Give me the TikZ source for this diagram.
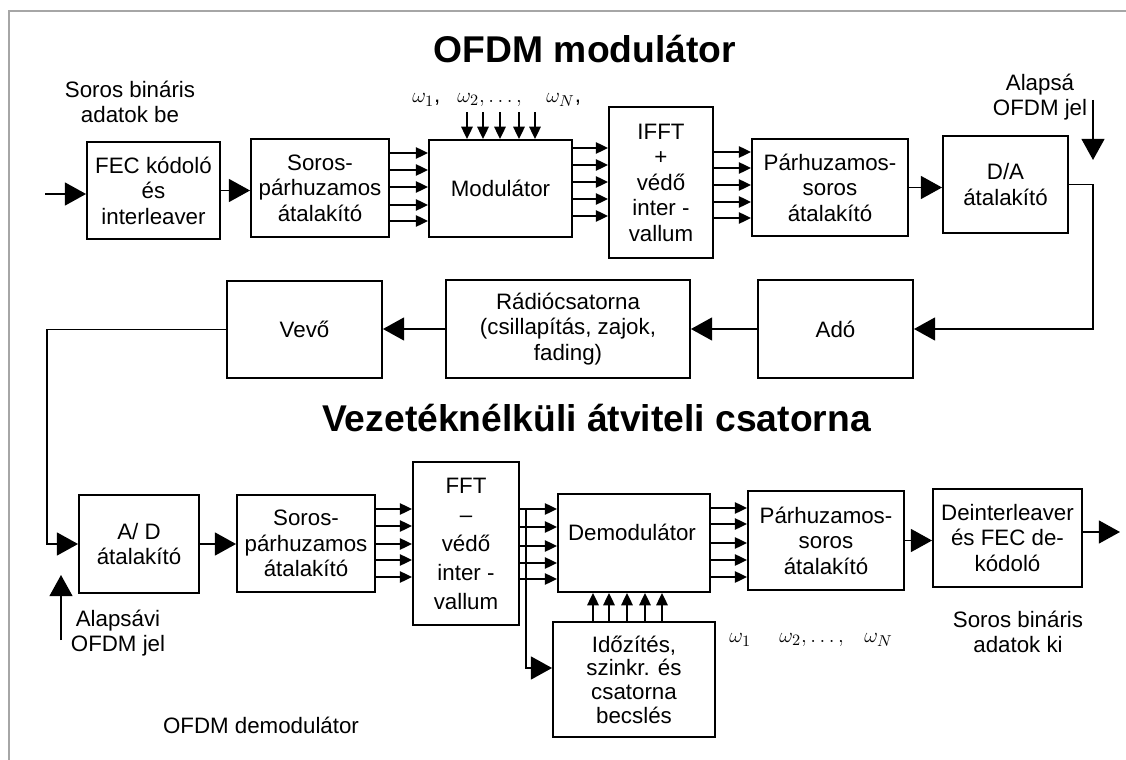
\documentclass[tikz,border=0pt]{standalone}
\usepackage{fontspec}
\setmainfont{Liberation Sans}
\usetikzlibrary{arrows.meta, calc}

\begin{document}
\begin{tikzpicture}[
		% pixel-like units, y pointing down
		x={(0.02cm,0cm)}, y={(0cm,-0.02cm)},
		>={Triangle[length=12pt,width=13pt]},
		every node/.style={font=\fontsize{12.7}{14.5}\selectfont},
		blokk/.style={draw, line width=1.1pt, align=center, inner sep=1pt},
		vonal/.style={line width=1pt},
		nyil/.style={vonal, ->},
		kis/.style={vonal, -{Triangle[length=7pt,width=6.5pt]}},
		cim/.style={font=\fontsize{21.2}{24}\selectfont\bfseries},
		omega/.style={anchor=west, inner sep=0pt}
		]
		
		\useasboundingbox (0,0) rectangle (1126,760);
		\draw[gray!70, line width=1.2pt] (9,760) -- (9,11) -- (1126,11);
		
		% --- 1. OFDM MODULATOR ---
		\node[cim, anchor=base] (cim1) at (585,63) {OFDM modulátor};
		\node[align=center] (be) at (130,102) {Soros bináris\\adatok be};
		
		\node[blokk, minimum width=2.66cm, minimum height=1.94cm] (fec) at (153.5,190.5) {FEC kódoló\\és\\interleaver};
		\node[blokk, minimum width=2.76cm, minimum height=1.96cm] (sp1) at (320,188) {Soros-\\párhuzamos\\átalakító};
		\node[blokk, minimum width=2.86cm, minimum height=1.94cm] (mod) at (500.5,188.5) {Modulátor};
		\node[blokk, minimum width=2.08cm, minimum height=3.02cm] (ifft) at (661,182.5) {IFFT\\+\\védő\\inter -\\vallum};
		\node[blokk, minimum width=3.12cm, minimum height=1.94cm] (ps1) at (830,187.5) {Párhuzamos-\\soros\\átalakító};
		\node[blokk, minimum width=2.5cm, minimum height=1.94cm] (da) at (1005.5,184.5) {D/A\\átalakító};
		
		% Carrier labels
		\node[omega] (om1) at (412,100) {$\omega_{1}$,};
		\node[omega] (om2) at (457,100) {$\omega_{2},\ldots,$};
		\node[omega] (omN) at (546,100) {$\omega_{N}$,};
		\node[align=center] (alapsa) at (1040,97) {Alapsá\\OFDM jel};
		
		% Connections
		\coordinate (bemenet) at (45,194);
		\draw[nyil] (bemenet) -- (bemenet -| fec.west);
		\draw[nyil] (fec.east) -- (fec.east -| sp1.west);
		\foreach \y in {153,170,187,205,221}
		\draw[kis] (sp1.east |- 0,\y) -- (mod.west |- 0,\y);
		\foreach \x in {467,483,500,519,535}
		\draw[kis] ($(mod.north -| \x,0)+(0,-27)$) -- (mod.north -| \x,0);
		\foreach \y in {148,165,182,199,216}
		\draw[kis] (mod.east |- 0,\y) -- (ifft.west |- 0,\y);
		\foreach \y in {152,168,185,202,218}
		\draw[kis] (ifft.east |- 0,\y) -- (ps1.west |- 0,\y);
		\draw[nyil] (ps1.east) -- (ps1.east -| da.west);
		\coordinate (dafel) at (1093,100);
		\coordinate (dacsucs) at (1093,160);
		\draw[nyil] (dafel) -- (dacsucs);
		
		% --- 2. RADIO CHANNEL ---
		\node[blokk, minimum width=3.1cm, minimum height=1.96cm] (ado) at (835.5,329) {Adó};
		\node[blokk, minimum width=4.88cm, minimum height=1.96cm] (radio) at (568,329) {Rádiócsatorna\\(csillapítás, zajok,\\fading)};
		\node[blokk, minimum width=3.1cm, minimum height=1.94cm] (vevo) at (304.5,329.5) {Vevő};
		\node[cim, anchor=base] (cim2) at (596.5,431) {Vezetéknélküli átviteli csatorna};
		
		\coordinate (jobbx) at (1093,0);
		\draw[nyil] (da.east) -- (da.east -| jobbx) |- (ado.east);
		\draw[nyil] (ado.west) -- (ado.west -| radio.east);
		\draw[nyil] (radio.west) -- (radio.west -| vevo.east);
		
		% --- 3. OFDM DEMODULATOR ---
		\node[blokk, minimum width=2.4cm, minimum height=1.96cm] (ad) at (139,544) {A/ D\\átalakító};
		\node[blokk, minimum width=2.76cm, minimum height=1.94cm] (sp2) at (306,543.5) {Soros-\\párhuzamos\\átalakító};
		\node[blokk, minimum width=2.12cm, minimum height=3.26cm, font=\fontsize{12.7}{16.5}\selectfont] (fft) at (466,543.5) {FFT\\--\\védő\\inter -\\vallum};
		\node[blokk, minimum width=3.04cm, minimum height=1.96cm] (demod) at (634,543) {};
		\node (demodszoveg) at (632,532) {Demodulátor};
		\node[blokk, minimum width=3.24cm, minimum height=2.3cm, font=\fontsize{12.7}{13.5}\selectfont] (ido) at (634,679.5) {Időzítés,\\szinkr. és\\csatorna\\becslés};
		\node[blokk, minimum width=3.12cm, minimum height=1.98cm] (ps2) at (826,540.5) {Párhuzamos-\\soros\\átalakító};
		\node[blokk, minimum width=2.98cm, minimum height=1.96cm] (deint) at (1007.5,538) {Deinterleaver\\és FEC de-\\kódoló};
		
		\node[align=center] (alapsavi) at (118,633) {Alapsávi\\OFDM jel};
		\node[align=center] (ki) at (1018,632) {Soros bináris\\adatok ki};
		\node (demodcim) at (261,725) {OFDM demodulátor};
		\node[omega] (om1b) at (729,640) {$\omega_{1}$};
		\node[omega] (om2b) at (779,640) {$\omega_{2},\ldots,$};
		\node[omega] (omNb) at (864,640) {$\omega_{N}$};
		
		% Connections
		\coordinate (balx) at (47,0);
		\draw[nyil] (vevo.west) -- (vevo.west -| balx) |- (ad.west);
		\coordinate (adle) at (61,640);
		\coordinate (adcsucs) at (61,575);
		\draw[nyil] (adle) -- (adcsucs);
		\draw[nyil] (ad.east) -- (ad.east -| sp2.west);
		\foreach \y in {509,526,544,560,577}
		\draw[kis] (sp2.east |- 0,\y) -- (fft.west |- 0,\y);
		\foreach \y in {509,527,546,563,579}
		\draw[kis] (fft.east |- 0,\y) -- (demod.west |- 0,\y);
		\coordinate (ag) at (526,509);
		\draw[nyil] (ag) |- ([yshift=0.23cm]ido.west);
		\foreach \x in {593,609,627,645,662}
		\draw[kis] (ido.north -| \x,0) -- (demod.south -| \x,0);
		\foreach \y in {508,524,543,560,577}
		\draw[kis] (demod.east |- 0,\y) -- (ps2.west |- 0,\y);
		\draw[nyil] (ps2.east) -- (ps2.east -| deint.west);
		\coordinate (kimenet) at (1120,532);
		\draw[nyil] (kimenet -| deint.east) -- (kimenet);
		
	\end{tikzpicture}
\end{document}
